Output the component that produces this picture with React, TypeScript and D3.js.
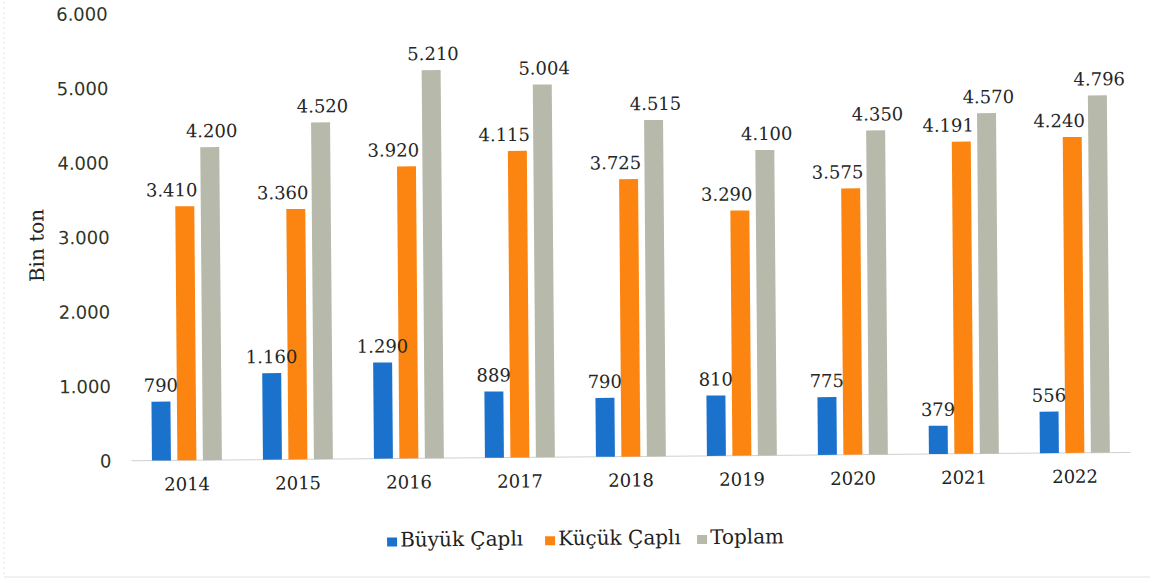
import React from "react";
import * as d3 from "d3";

const years = ["2014", "2015", "2016", "2017", "2018", "2019", "2020", "2021", "2022"];
const seriesNames = ["Büyük Çaplı", "Küçük Çaplı", "Toplam"];
const buyukCapli = [790, 1160, 1290, 889, 790, 810, 775, 379, 556];
const kucukCapli = [3410, 3360, 3920, 4115, 3725, 3290, 3575, 4191, 4240];
const toplam = [4200, 4520, 5210, 5004, 4515, 4100, 4350, 4570, 4796];
const yTicks = [0, 1000, 2000, 3000, 4000, 5000, 6000];

const colors = ["#1a72cc", "#fb8510", "#b7b9ab"];
const labelDx = [0, -13, 2];
const legendX = [385, 543, 695];

const trLocale = d3.formatLocale({ decimal: ",", thousands: ".", grouping: [3], currency: ["", ""] });
const fmt = trLocale.format(",d");

export default function App() {
  const W = 1156;
  const H = 583;
  const seriesValues = [buyukCapli, kucukCapli, toplam];

  const x0 = d3.scaleBand<string>().domain(years).range([130, 1129]).paddingInner(0.37).paddingOuter(0.185);
  const x1 = d3.scaleBand<string>().domain(seriesNames).range([0, x0.bandwidth()]).paddingInner(0.255).paddingOuter(0);
  const y = d3.scaleLinear().domain([0, 6000]).range([457, 10]);

  return (
    <svg width={W} height={H} style={{ position: "absolute", left: 0, top: 0, background: "#fff" }}>
      <rect x={0} y={0} width={W} height={H} fill="#fff" />
      <line x1={4} y1={2} x2={4} y2={576} stroke="#e6e6e6" strokeDasharray="2,3" />
      <line x1={4} y1={577} x2={1150} y2={577} stroke="#e2e2e2" />
      <g transform="rotate(-0.48, 578, 290)">
        {/* y tick labels */}
        {yTicks.map((t) => (
          <text key={t} x={110} y={y(t)} dy="0.36em" textAnchor="end" fontFamily="DejaVu Sans" fontSize={18} fill="#2f3526">
            {fmt(t)}
          </text>
        ))}
        {/* y title */}
        <text transform={`translate(44, 241) rotate(-90)`} textAnchor="middle" fontFamily="DejaVu Serif" fontSize={20} fill="#222">
          Bin ton
        </text>
        {/* baseline */}
        <line x1={130} x2={1129} y1={y(0)} y2={y(0)} stroke="#d0d0d0" strokeWidth={1} />
        {/* bars */}
        {years.map((yr, i) => (
          <g key={yr} transform={`translate(${x0(yr)},0)`}>
            {seriesNames.map((s, j) => {
              const v = seriesValues[j][i];
              const bx = x1(s) as number;
              return <rect key={s} x={bx} y={y(v)} width={x1.bandwidth()} height={y(0) - y(v)} fill={colors[j]} />;
            })}
          </g>
        ))}
        {/* labels */}
        {years.map((yr, i) => (
          <g key={yr} transform={`translate(${x0(yr)},0)`}>
            {seriesNames.map((s, j) => {
              const v = seriesValues[j][i];
              const bx = x1(s) as number;
              return (
                <text
                  key={s}
                  x={bx + x1.bandwidth() / 2 + labelDx[j]}
                  y={y(v) - 10}
                  textAnchor="middle"
                  fontFamily="DejaVu Serif"
                  fontSize={18}
                  fill="#262626"
                >
                  {fmt(v)}
                </text>
              );
            })}
            <text
              x={x0.bandwidth() / 2}
              y={y(0) + 30}
              textAnchor="middle"
              fontFamily="DejaVu Serif"
              fontSize={18}
              fill="#222"
            >
              {yr}
            </text>
          </g>
        ))}
        {/* legend */}
        {seriesNames.map((s, j) => (
          <g key={s} transform={`translate(${legendX[j]}, 545)`}>
            <rect x={0} y={-9} width={10} height={9} fill={colors[j]} />
            <text x={13} y={0} fontFamily="DejaVu Serif" fontSize={20} fill="#1f1f1f">
              {s}
            </text>
          </g>
        ))}
      </g>
    </svg>
  );
}
